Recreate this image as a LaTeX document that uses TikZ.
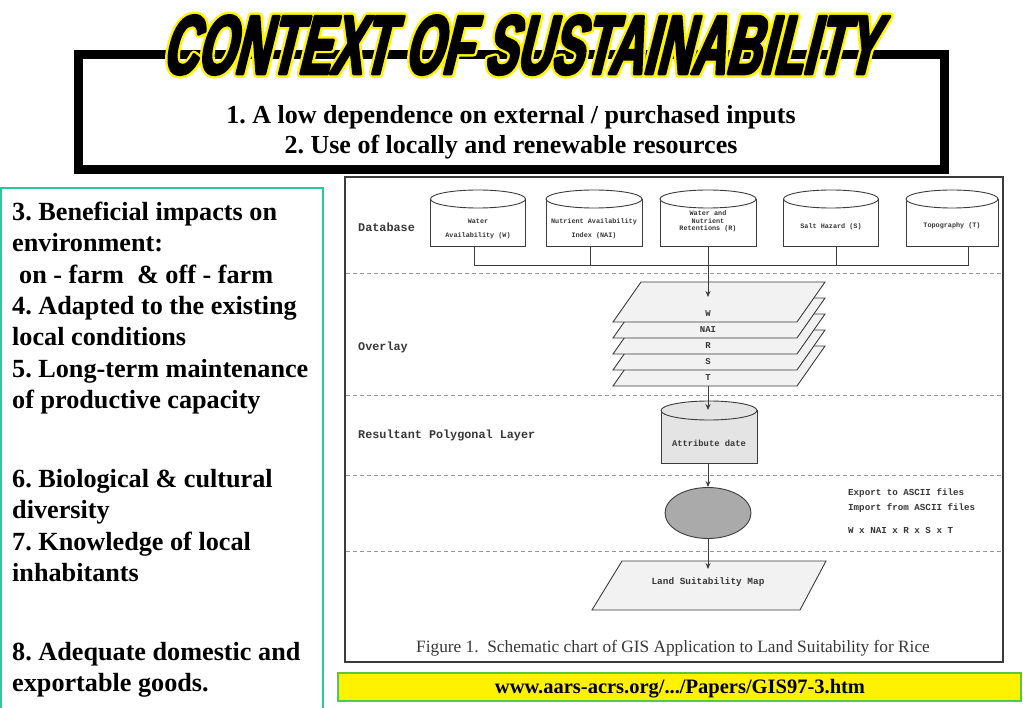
\documentclass[tikz,border=0pt]{standalone}
\usepackage{fontspec}
\setmainfont{Liberation Serif}
\newfontfamily\monof{Liberation Mono}
\newfontfamily\titleK{Liberation Sans Bold}[FakeSlant=0.25,FakeStretch=0.57,FakeBold=3.2]
\newfontfamily\titleY{Liberation Sans Bold}[FakeSlant=0.25,FakeStretch=0.57,FakeBold=9]
\usetikzlibrary{shapes.geometric,arrows.meta,calc}
\definecolor{tealbox}{RGB}{40,200,160}
\definecolor{urlgreen}{RGB}{90,200,60}
\definecolor{figline}{RGB}{60,60,60}
\definecolor{dashgray}{RGB}{150,150,150}
\definecolor{sheetfill}{RGB}{242,242,242}
\definecolor{attfill}{RGB}{228,228,228}
\definecolor{labgray}{RGB}{55,55,55}
\definecolor{procfill}{RGB}{170,170,170}
\definecolor{titleyellow}{RGB}{255,245,0}
\newcommand\dbcyl[7]{% name, cx, ytop, w, h, ry, fill
  \draw[conn,fill=#7] ({#2-#4/2},{#3+#6}) rectangle ({#2+#4/2},{#3+#5});
  \draw[conn,fill=#7] (#2,{#3+#6}) ellipse [x radius={#4/2}, y radius=#6];
  \node[inner sep=0,minimum width=#4,minimum height=#5] (#1) at (#2,{#3+#5/2}) {};
}
\tikzset{
  lefttxt/.style={anchor=base west, inner sep=0, font=\fontsize{26.2}{31.4}\selectfont\bfseries},
  toptxt/.style={anchor=base, inner sep=0, font=\fontsize{26}{31}\selectfont\bfseries},
  rowlab/.style={anchor=west, inner sep=0, text=labgray, font=\monof\bfseries\fontsize{11.8}{12}\selectfont},
  cyltxt/.style={align=center, inner sep=0, text=labgray, font=\monof\bfseries\fontsize{6.8}{14}\selectfont},
  smalltxt/.style={anchor=west, inner sep=0, text=labgray, font=\monof\bfseries\fontsize{9.2}{10}\selectfont},
  conn/.style={line width=0.9pt, draw=figline},
  arr/.style={conn, -{Stealth[length=6pt,width=5pt]}},
  sep/.style={draw=dashgray, line width=0.8pt, dash pattern=on 4pt off 3pt},
  sheet/.style={conn, fill=sheetfill},
}
\begin{document}
\frenchspacing
\begin{tikzpicture}[x=1pt,y=-1pt]
\useasboundingbox (0,0) rectangle (1023,708);
\fill[white] (0,0) rectangle (1023,708);

% left green box
\draw[tealbox, line width=2pt] (1,188) rectangle (323,715);
\node[lefttxt] (l1) at (12,220.3) {3. Beneficial impacts on};
\node[lefttxt] (l2) at (12,251.7) {environment:};
\node[lefttxt] (l3) at (19,283.1) {on - farm~ \& off - farm};
\node[lefttxt] (l4) at (12,314.5) {4. Adapted to the existing};
\node[lefttxt] (l5) at (12,345.9) {local conditions};
\node[lefttxt] (l6) at (12,377.3) {5. Long-term maintenance};
\node[lefttxt] (l7) at (12,408.7) {of productive capacity};
\node[lefttxt] (l8) at (12,487.2) {6. Biological \& cultural};
\node[lefttxt] (l9) at (12,518.6) {diversity};
\node[lefttxt] (l10) at (12,550) {7. Knowledge of local};
\node[lefttxt] (l11) at (12,581.4) {inhabitants};
\node[lefttxt] (l12) at (12,660) {8. Adequate domestic and};
\node[lefttxt] (l13) at (12,691.4) {exportable goods.};

% top frame
\draw[line width=9pt] (78,55) rectangle (944,170);
\node[toptxt] (t1) at (511,124) {1. A low dependence on external / purchased inputs};
\node[toptxt] (t2) at (511,154) {2. Use of locally and renewable resources};

% title: yellow outline under heavy black letters (round stroke joins)
\begin{scope}[line join=round, line cap=round]
\node[anchor=base, inner sep=0, text=titleyellow, font=\titleY\fontsize{84}{84}\selectfont] (titleY) at (519,74) {CONTEXT OF SUSTAINABILITY};
\node[anchor=base, inner sep=0, text=black, font=\titleK\fontsize{84}{84}\selectfont] (titleK) at (519,74) {CONTEXT OF SUSTAINABILITY};
\end{scope}

% figure box
\draw[draw=figline, line width=1.3pt, fill=white] (345,177) rectangle (1003,662);
\foreach \yy in {273,395,475,551} \draw[sep] (346,\yy) -- (1002,\yy);

\node[rowlab] (rdb) at (358,227) {Database};
\node[rowlab] (rov) at (358,347) {Overlay};
\node[rowlab] (rres) at (358,435) {Resultant Polygonal Layer};

% database cylinders
\dbcyl{db1}{478}{190}{95}{56}{9}{white}
\dbcyl{db2}{594}{190}{96}{56}{9}{white}
\dbcyl{db3}{708}{190}{96}{56}{9}{white}
\dbcyl{db4}{831}{190}{95}{56}{9}{white}
\dbcyl{db5}{952}{190}{92}{56}{9}{white}
\node[cyltxt] (c1) at (478,228.7) {Water\\Availability (W)};
\node[cyltxt] (c2) at (594,228.7) {Nutrient Availability\\Index (NAI)};
\node[cyltxt, font=\monof\bfseries\fontsize{6.8}{7.5}\selectfont] (c3) at (708,221.5) {Water and\\Nutrient\\Retentions (R)};
\node[cyltxt] (c4) at (831,226.7) {Salt Hazard (S)};
\node[cyltxt] (c5) at (952,225.7) {Topography (T)};

\coordinate (bus1) at (474,265);
\coordinate (bus5) at (968,265);
\draw[conn] ([xshift=-4pt]db1.south) -- (bus1) -- (bus5) -- ([xshift=16pt]db5.south);
\draw[conn] ([xshift=-4pt]db2.south) -- ([xshift=-4pt]db2.south |- bus1);
\draw[conn] ([xshift=5pt]db4.south) -- ([xshift=5pt]db4.south |- bus1);

% overlay sheets
\foreach \k in {4,3,2,1,0} {
  \draw[sheet] (613,{322+16*\k}) -- (641,{282+16*\k}) -- (825,{282+16*\k}) -- (797,{322+16*\k}) -- cycle;
}
\node[cyltxt, font=\monof\bfseries\fontsize{9}{10}\selectfont] (sW) at (708,314) {W};
\node[cyltxt, font=\monof\bfseries\fontsize{9}{10}\selectfont] (sNAI) at (708,330) {NAI};
\node[cyltxt, font=\monof\bfseries\fontsize{9}{10}\selectfont] (sR) at (708,346) {R};
\node[cyltxt, font=\monof\bfseries\fontsize{9}{10}\selectfont] (sS) at (708,362) {S};
\node[cyltxt, font=\monof\bfseries\fontsize{9}{10}\selectfont] (sT) at (708,378) {T};
\coordinate (ovin) at (708,297);
\coordinate (ovbot) at (708,386);
\draw[arr] (db3.south) -- (ovin);

% attribute cylinder
\dbcyl{att}{709}{401}{96}{62}{9.5}{attfill}
\node[cyltxt, font=\monof\bfseries\fontsize{8.8}{10}\selectfont] (attt) at (709,443) {Attribute date};
\coordinate (attin) at (708,410);
\draw[arr] (ovbot) -- (attin);

% process ellipse
\node[ellipse, draw=figline, line width=0.9pt, fill=procfill, minimum width=86pt, minimum height=51pt, inner sep=0] (proc) at (708,513) {};
\draw[arr] (att.south -| proc.north) -- (proc.north);
\node[smalltxt] (exp) at (848,492.7) {Export to ASCII files};
\node[smalltxt] (imp) at (848,507.7) {Import from ASCII files};
\node[smalltxt] (wx) at (848,530) {W x NAI x R x S x T};

% map
\draw[sheet] (592,610) -- (622,561) -- (826,561) -- (800,610) -- cycle;
\node[cyltxt, font=\monof\bfseries\fontsize{9.4}{10}\selectfont] (mapt) at (708,582) {Land Suitability Map};
\coordinate (mapin) at (708,569);
\draw[arr] (proc.south) -- (mapin);

% caption
\node[anchor=base, inner sep=0, text=labgray, font=\fontsize{17.3}{19}\selectfont] (cap) at (673,652) {Figure 1.\ \ Schematic chart of GIS Application to Land Suitability for Rice};

% url box
\draw[draw=urlgreen, fill=yellow, line width=1.5pt] (338,673) rectangle (1021,701);
\node[anchor=base, inner sep=0, font=\fontsize{20.5}{22}\selectfont\bfseries] (url) at (680,693) {www.aars-acrs.org/.../Papers/GIS97-3.htm};
\end{tikzpicture}
\end{document}
